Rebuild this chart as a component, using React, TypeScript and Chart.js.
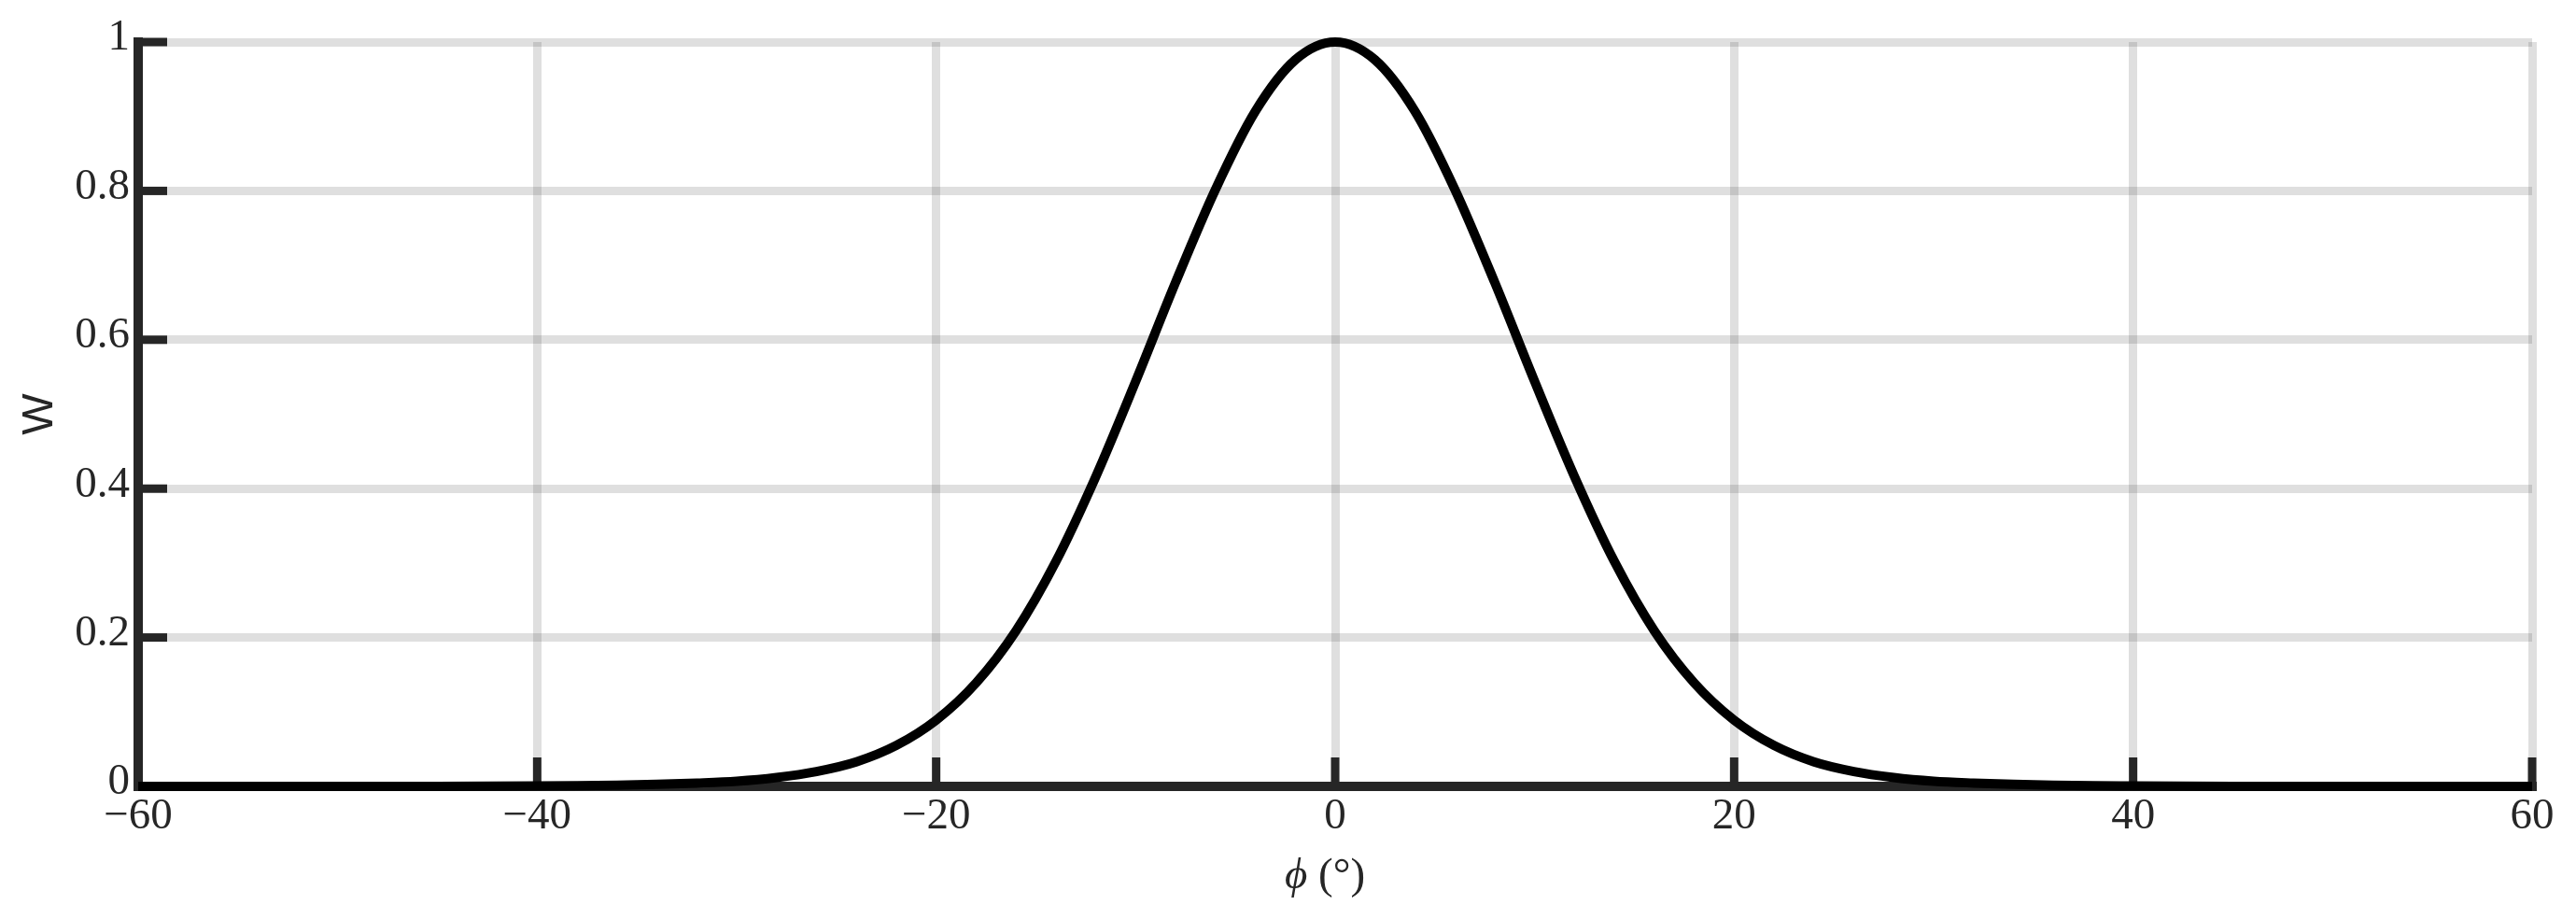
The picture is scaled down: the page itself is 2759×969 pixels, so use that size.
import React, { useEffect, useRef } from 'react';
import { Chart, registerables } from 'chart.js';

Chart.register(...registerables);

// Data
const phiDeg = [
  -60, -50, -45, -40, -38, -36, -34, -32, -30, -28, -26, -24, -22, -20, -18, -16, -14, -12, -10, -8, -6, -4, -2,
  0,
  2, 4, 6, 8, 10, 12, 14, 16, 18, 20, 22, 24, 26, 28, 30, 32, 34, 36, 38, 40, 45, 50, 60,
];
const wValues = [
  0, 0, 0.0001, 0.0006, 0.001, 0.0017, 0.0028, 0.0045, 0.007, 0.012, 0.02, 0.033, 0.055, 0.089, 0.139, 0.209, 0.302, 0.416, 0.544, 0.677, 0.802, 0.907, 0.976,
  1.0,
  0.976, 0.907, 0.802, 0.677, 0.544, 0.416, 0.302, 0.209, 0.139, 0.089, 0.055, 0.033, 0.02, 0.012, 0.007, 0.0045, 0.0028, 0.0017, 0.001, 0.0006, 0.0001, 0, 0,
];
const xTickValues = [-60, -40, -20, 0, 20, 40, 60];
const yTickValues = [0, 0.2, 0.4, 0.6, 0.8, 1];
const xTitleSymbol = '\u03D5';
const xTitleRest = ' (\u00B0)';
const yTitleText = 'W';

const AXIS = '#262626';
const GRID = 'rgba(38,38,38,0.15)';
const SERIF = '"Liberation Serif", "DejaVu Serif", serif';
const SANS = '"Liberation Sans", "DejaVu Sans", sans-serif';

const decorations = {
  id: 'decorations',
  beforeDatasetsDraw(chart: any) {
    const { ctx, chartArea, scales } = chart;
    ctx.save();
    ctx.strokeStyle = AXIS;
    ctx.lineWidth = 9;
    ctx.lineCap = 'butt';
    for (const v of xTickValues) {
      const px = scales.x.getPixelForValue(v);
      ctx.beginPath();
      ctx.moveTo(px, chartArea.bottom);
      ctx.lineTo(px, chartArea.bottom - 31);
      ctx.stroke();
    }
    for (const v of yTickValues) {
      const py = scales.y.getPixelForValue(v);
      ctx.beginPath();
      ctx.moveTo(chartArea.left, py);
      ctx.lineTo(chartArea.left + 31, py);
      ctx.stroke();
    }
    ctx.restore();
  },
  afterDraw(chart: any) {
    const { ctx, chartArea } = chart;
    ctx.save();
    ctx.fillStyle = AXIS;
    const italicFont = `italic 47px ${SERIF}`;
    const normalFont = `47px ${SERIF}`;
    ctx.font = italicFont;
    const w1 = ctx.measureText(xTitleSymbol).width;
    ctx.font = normalFont;
    const w2 = ctx.measureText(xTitleRest).width;
    const cx = (chartArea.left + chartArea.right) / 2 - 11;
    const startX = cx - (w1 + w2) / 2;
    const baseY = chartArea.bottom + 109;
    ctx.textBaseline = 'alphabetic';
    ctx.textAlign = 'left';
    ctx.font = italicFont;
    ctx.fillText(xTitleSymbol, startX, baseY);
    ctx.font = normalFont;
    ctx.fillText(xTitleRest, startX + w1, baseY);
    ctx.translate(43, (chartArea.top + chartArea.bottom) / 2);
    ctx.rotate(-Math.PI / 2);
    ctx.font = `47px ${SANS}`;
    ctx.textAlign = 'center';
    ctx.textBaseline = 'middle';
    ctx.fillText(yTitleText, 0, 0);
    ctx.restore();
  },
};

export default function App() {
  const canvasRef = useRef<HTMLCanvasElement | null>(null);

  useEffect(() => {
    document.body.style.margin = '0';
    document.body.style.overflow = 'hidden';
    const canvas = canvasRef.current;
    if (!canvas) return;
    const points = phiDeg.map((x, i) => ({ x, y: wValues[i] }));
    const chart = new Chart(canvas, {
      type: 'line',
      data: {
        datasets: [
          {
            data: points,
            borderColor: '#000000',
            borderWidth: 10,
            pointRadius: 0,
            fill: false,
            cubicInterpolationMode: 'monotone',
            clip: false as any,
          },
        ],
      },
      options: {
        animation: false,
        responsive: false,
        devicePixelRatio: 1,
        events: [],
        layout: { padding: { top: 45, right: 47, left: 0, bottom: 0 } },
        plugins: { legend: { display: false }, tooltip: { enabled: false }, title: { display: false } },
        scales: {
          x: {
            type: 'linear',
            min: -60,
            max: 60,
            afterFit: (scale: any) => {
              scale.height = 127;
            },
            afterBuildTicks: (scale: any) => {
              scale.ticks = xTickValues.map((v) => ({ value: v }));
            },
            grid: { color: GRID, lineWidth: 9, drawTicks: false },
            border: { display: true, color: AXIS, width: 10 },
            ticks: {
              autoSkip: false,
              maxRotation: 0,
              padding: 4,
              color: AXIS,
              font: { family: SERIF, size: 47 },
              callback: (v: any) => (Number(v) < 0 ? '\u2212' + Math.abs(Number(v)) : String(v)),
            },
          },
          y: {
            type: 'linear',
            min: 0,
            max: 1,
            afterFit: (scale: any) => {
              scale.width = 148;
            },
            afterBuildTicks: (scale: any) => {
              scale.ticks = yTickValues.map((v) => ({ value: v }));
            },
            grid: { color: GRID, lineWidth: 9, drawTicks: false },
            border: { display: true, color: AXIS, width: 10 },
            ticks: {
              padding: 9,
              labelOffset: -4,
              color: AXIS,
              font: { family: SERIF, size: 47 },
              callback: (v: any) => String(Math.round(Number(v) * 10) / 10),
            },
          },
        },
      },
      plugins: [decorations],
    } as any);
    return () => chart.destroy();
  }, []);

  return <canvas ref={canvasRef} width={2759} height={969} style={{ display: 'block' }} />;
}
